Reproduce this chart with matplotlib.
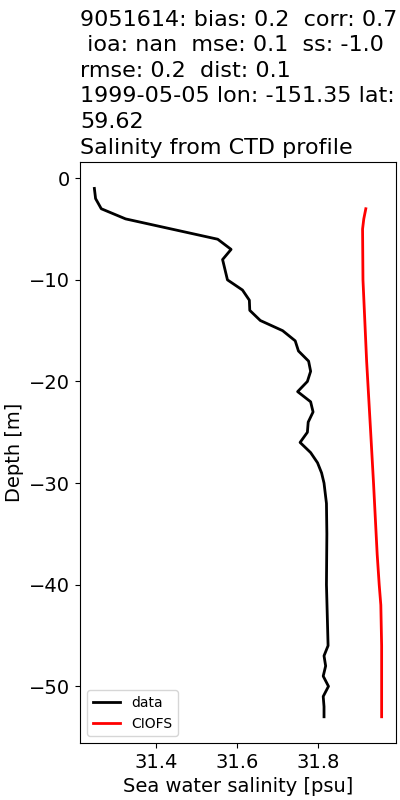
import matplotlib

matplotlib.use("Agg")

import matplotlib.pyplot as plt

# observed CTD profile
data_depth = [-1, -2, -3, -4, -6, -7, -8, -10, -11, -12, -13, -14, -15, -16, -17, -18,
              -19, -20, -21, -22, -23, -24, -25, -26, -27, -28, -29, -30, -32, -35,
              -40, -46, -47, -48, -49, -50, -51, -52, -53]
data_sal = [31.248, 31.251, 31.265, 31.325, 31.552, 31.585, 31.564, 31.576, 31.613,
            31.630, 31.631, 31.657, 31.712, 31.743, 31.751, 31.776,
            31.781, 31.773, 31.749, 31.781, 31.787, 31.775, 31.773, 31.755, 31.781,
            31.798, 31.808, 31.814, 31.820, 31.821,
            31.820, 31.824, 31.814, 31.818, 31.812, 31.825, 31.812, 31.814, 31.814]

# model profile
model_depth = [-3, -4, -5, -10, -18, -25, -30, -37, -40, -42, -46, -50, -53]
model_sal = [31.917, 31.912, 31.909, 31.910, 31.919, 31.929, 31.936, 31.945, 31.950,
             31.954, 31.956, 31.956, 31.956]

title = ("9051614: bias: 0.2  corr: 0.7\n ioa: nan  mse: 0.1  ss: -1.0\n"
         "rmse: 0.2  dist: 0.1\n1999-05-05 lon: -151.35 lat:\n59.62\n"
         "Salinity from CTD profile")

fig = plt.figure(figsize=(4, 8), dpi=100)
ax = fig.add_axes([0.2, 0.071, 0.79, 0.7265])

ax.plot(data_sal, data_depth, color="k", lw=2, label="data")
ax.plot(model_sal, model_depth, color="r", lw=2, label="CIOFS")

ax.set_title(title, loc="left", fontsize=16, linespacing=1.35)
ax.set_xlabel("Sea water salinity [psu]", fontsize=14)
ax.set_ylabel("Depth [m]", fontsize=14)
ax.tick_params(labelsize=14)
ax.set_xticks([31.4, 31.6, 31.8])
ax.legend(loc="lower left", fontsize=10)

fig.savefig("out.png", dpi=100)
